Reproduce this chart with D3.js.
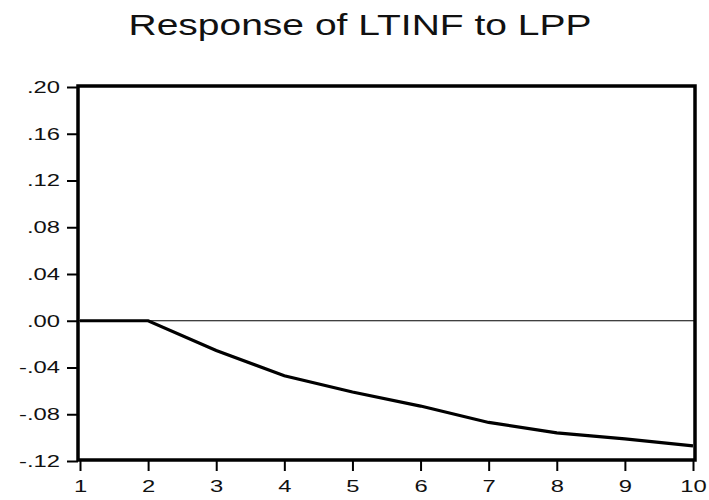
<!DOCTYPE html>
<html>
<head>
<meta charset="utf-8">
<script src="https://cdn.jsdelivr.net/npm/d3@7"></script>
<style>
    body { margin: 0; background: #fff; }
    svg text { font-family: "Liberation Sans", Arial, sans-serif; }
</style>
</head>
<body>
<div id="chart"></div>
<script>
// impulse response, periods 1..10
var periods = [1, 2, 3, 4, 5, 6, 7, 8, 9, 10];
var response = [0.000, 0.000, -0.0255, -0.047, -0.061, -0.073, -0.087, -0.096, -0.101, -0.107];
var yTicks = [0.20, 0.16, 0.12, 0.08, 0.04, 0.00, -0.04, -0.08, -0.12];
var title = "Response of LTINF to LPP";

var o = {
    w: 709, h: 500,
    margin: {left: 78, right: 14, top: 86, bottom: 40},
    stretch: 1.4
};
o.width = o.w - o.margin.left - o.margin.right;
o.height = o.h - o.margin.top - o.margin.bottom;

var svg = d3.select("#chart").append("svg")
    .attr("width", o.w)
    .attr("height", o.h);

// the original picture is stretched sideways, so the text is too
svg.append("text")
    .attr("transform", "translate(360,35) scale(1.3,1)")
    .attr("text-anchor", "middle")
    .style("font-size", "30px")
    .style("fill", "#111")
    .text(title);

var chart = svg.append("g")
    .attr("transform", "translate(" + o.margin.left + "," + o.margin.top + ")");

var x = d3.scaleLinear().domain([1, 10]).range([2, o.width - 2]),
    y = d3.scaleLinear().domain([-0.12, 0.20]).range([o.height + 1, 1]);

var fmt = function (d) {
    return d3.format(".2f")(d).replace("0.", ".").replace("\u2212", "-");
};

var xAxis = d3.axisBottom(x).tickValues(periods).tickSize(11).tickPadding(9).tickFormat(d3.format("d")),
    yAxis = d3.axisLeft(y).tickValues(yTicks).tickSize(11).tickPadding(7).tickFormat(fmt);

var gx = chart.append("g")
    .attr("transform", "translate(0," + o.height + ")")
    .call(xAxis);
var gy = chart.append("g").call(yAxis);

[gx, gy].forEach(function (g) {
    g.select(".domain").remove();
    g.selectAll("line").attr("stroke", "#000").attr("stroke-width", 2);
    g.selectAll("text")
        .style("font-size", "17px")
        .style("fill", "#111")
        .each(function () {
            var t = d3.select(this);
            var tx = +t.attr("x") || 0, ty = +t.attr("y") || 0;
            t.attr("x", 0).attr("y", 0)
                .attr("transform", "translate(" + tx + "," + ty + ") scale(" + o.stretch + ",1)");
        });
});

// zero line
chart.append("line")
    .attr("x1", 0).attr("x2", o.width)
    .attr("y1", y(0)).attr("y2", y(0))
    .attr("stroke", "#000")
    .attr("stroke-width", 1.2);

var line = d3.line()
    .x(function (d, i) { return x(periods[i]); })
    .y(function (d) { return y(d); });

chart.append("path")
    .datum(response)
    .attr("d", line)
    .attr("fill", "none")
    .attr("stroke", "#000")
    .attr("stroke-width", 3.2);

// frame
chart.append("rect")
    .attr("x", 0).attr("y", 0)
    .attr("width", o.width).attr("height", o.height)
    .attr("fill", "none")
    .attr("stroke", "#000")
    .attr("stroke-width", 3.5);
</script>
</body>
</html>
